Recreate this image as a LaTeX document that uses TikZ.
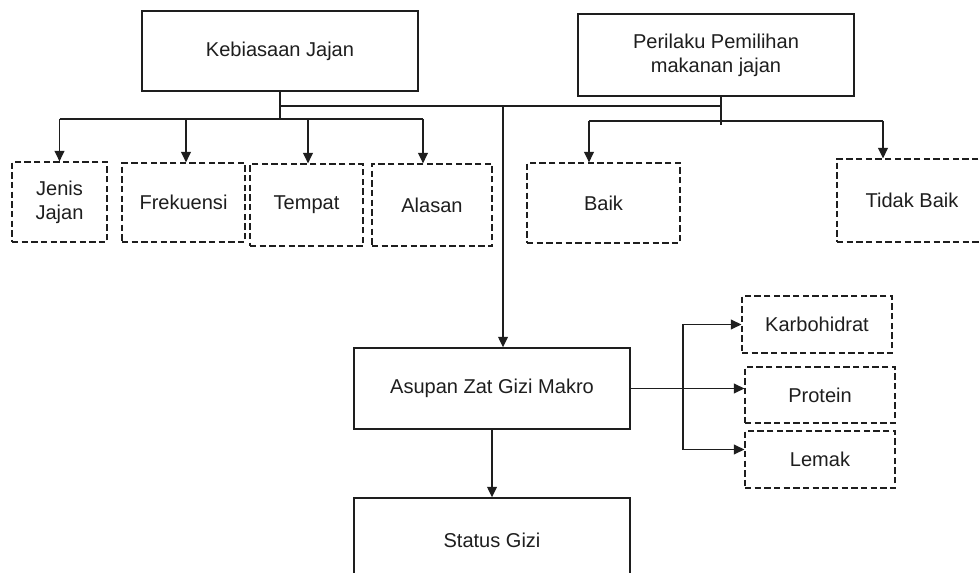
\documentclass[tikz,border=0pt]{standalone}
\usepackage{fontspec}
\setmainfont{Liberation Sans}
\usepackage{tikz}
\usetikzlibrary{arrows.meta,positioning,calc}
\definecolor{inkgrey}{RGB}{30,30,30}
\tikzset{
  base/.style={font=\fontsize{11.4}{13.5}\selectfont, align=center, inner sep=2pt, text=inkgrey},
  box/.style={base, rectangle, draw=inkgrey, fill=white, line width=0.8pt},
  dbox/.style={box, line width=0.7pt, dash pattern=on 3.6pt off 1.9pt},
  arr/.style={-{Triangle[length=6pt,width=5.6pt]}, line width=0.75pt, draw=inkgrey},
  wire/.style={line width=0.75pt, draw=inkgrey},
}
\begin{document}
\begin{tikzpicture}[x=0.02cm,y=-0.02cm]
  \path[use as bounding box] (0,0) rectangle (979,573);
  \clip (0,0) rectangle (979,573);
  % top boxes
  \node[box,minimum width=5.52cm,minimum height=1.6cm] (keb) at (280,51) {Kebiasaan Jajan};
  \node[box,minimum width=5.52cm,minimum height=1.64cm] (per) at (716,55) {Perilaku Pemilihan\\makanan jajan};
  % indicators
  \node[dbox,minimum width=1.9cm,minimum height=1.6cm] (jenis) at (59.5,202) {Jenis\\Jajan};
  \node[dbox,minimum width=2.46cm,minimum height=1.58cm] (frek) at (183.5,202.5) {Frekuensi};
  \node[dbox,minimum width=2.26cm,minimum height=1.64cm] (tempat) at (306.5,205) {Tempat};
  \node[dbox,minimum width=2.4cm,minimum height=1.64cm] (alasan) at (432,205) {Alasan};
  \node[dbox,minimum width=3.06cm,minimum height=1.6cm] (baik) at (603.5,203) {Baik};
  \node[dbox,minimum width=3.0cm,minimum height=1.66cm] (tidak) at (912,200.5) {Tidak Baik};
  % intake and status
  \node[box,minimum width=5.52cm,minimum height=1.62cm] (asupan) at (492,388.5) {Asupan Zat Gizi Makro};
  \node[box,minimum width=5.52cm,minimum height=1.68cm] (status) at (492,540) {Status Gizi};
  \node[dbox,minimum width=3.0cm,minimum height=1.14cm] (karbo) at (817,324.5) {Karbohidrat};
  \node[dbox,minimum width=3.0cm,minimum height=1.12cm] (protein) at (820,395) {Protein};
  \node[dbox,minimum width=3.0cm,minimum height=1.14cm] (lemak) at (820,459.5) {Lemak};
  % buses
  \coordinate (busl) at (280,119);
  \coordinate (busr) at (721,121);
  \coordinate (join) at (280,106);
  \coordinate (mid) at (503,106);
  \coordinate (brk) at (683,0);
  \draw[wire] (keb.south) -- (busl);
  \draw[wire] (busr |- per.south) -- ([yshift=-2pt]busr);
  \draw[wire] (join) -- (join -| busr);
  % arrow entry points
  \coordinate (jenisin) at (jenis.north);
  \coordinate (frekin) at ([xshift=0.05cm]frek.north);
  \coordinate (tempatin) at ([xshift=0.03cm]tempat.north);
  \coordinate (alasanin) at ([xshift=-0.18cm]alasan.north);
  \coordinate (baikin) at ([xshift=-0.29cm]baik.north);
  \coordinate (tidakin) at ([xshift=-0.58cm]tidak.north);
  \foreach \n in {jenisin,frekin,tempatin,alasanin}{\draw[arr] (\n |- busl) -- (\n);}
  \foreach \n in {baikin,tidakin}{\draw[arr] (\n |- busr) -- (\n);}
  \draw[wire] (jenisin |- busl) -- (alasanin |- busl);
  \draw[wire] (baikin |- busr) -- (tidakin |- busr);
  \draw[arr] (mid) -- (mid |- asupan.north);
  \draw[arr] (asupan.south) -- (status.north);
  % macro nutrients
  \coordinate (lemakin) at ([yshift=0.2cm]lemak.west);
  \draw[arr] (asupan.east) -- (asupan.east -| protein.west);
  \draw[arr] (brk |- lemakin) |- (karbo.west);
  \draw[arr] (brk |- lemakin) -- (lemakin);
\end{tikzpicture}
\end{document}
